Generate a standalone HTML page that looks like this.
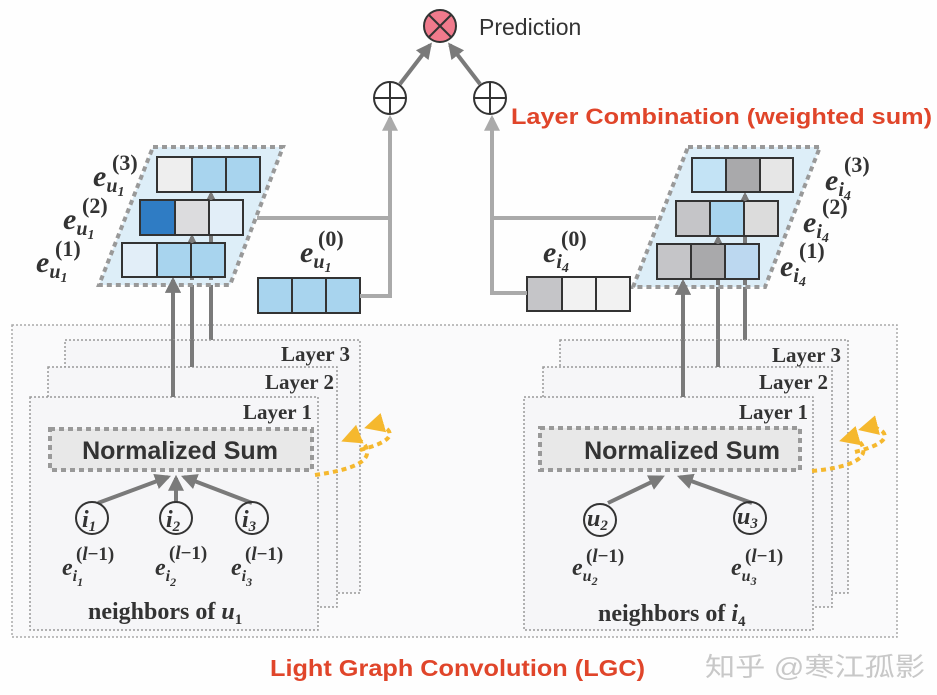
<!DOCTYPE html>
<html><head><meta charset="utf-8"><style>
html,body{margin:0;padding:0;background:#fefefe;}
svg{display:block}
.s{font-family:"Liberation Sans",sans-serif;}
.sf{font-family:"Liberation Serif",serif;font-weight:bold;fill:#333;}
.red{font-family:"Liberation Sans",sans-serif;font-weight:bold;fill:#e0452a;}
</style></head><body>
<svg width="937" height="695" viewBox="0 0 937 695" xmlns="http://www.w3.org/2000/svg">
<defs>
<marker id="ah" viewBox="0 0 10 10" refX="8" refY="5" markerWidth="4" markerHeight="4" orient="auto-start-reverse"><path d="M0,0 L10,5 L0,10 z" fill="#7a7a7a"/></marker>
<marker id="ah2" viewBox="0 0 10 10" refX="8" refY="5" markerWidth="4" markerHeight="4" orient="auto"><path d="M0,0 L10,5 L0,10 z" fill="#aaa"/></marker>
<marker id="ya" viewBox="0 0 10 10" refX="8" refY="5" markerWidth="5" markerHeight="5" orient="auto"><path d="M0,0 L10,5 L0,10 z" fill="#f5b82e"/></marker>
</defs>
<rect width="937" height="695" fill="#fefefe"/>

<!-- Outer LGC box -->
<rect x="12" y="325" width="885" height="312" fill="#fafafb" stroke="#aaa" stroke-width="1.5" stroke-dasharray="2,2"/>

<!-- arrows up from layers (drawn under boxes) -->
<line x1="173" y1="397" x2="173" y2="280" stroke="#7a7a7a" stroke-width="4" marker-end="url(#ah)"/>
<line x1="192" y1="367" x2="192" y2="237" stroke="#7a7a7a" stroke-width="4" marker-end="url(#ah)"/>
<line x1="211" y1="340" x2="211" y2="194" stroke="#7a7a7a" stroke-width="4" marker-end="url(#ah)"/>
<line x1="683" y1="397" x2="683" y2="282" stroke="#7a7a7a" stroke-width="4" marker-end="url(#ah)"/>
<line x1="718" y1="367" x2="718" y2="238" stroke="#7a7a7a" stroke-width="4" marker-end="url(#ah)"/>
<line x1="745" y1="340" x2="745" y2="195" stroke="#7a7a7a" stroke-width="4" marker-end="url(#ah)"/>

<!-- Left layer stack -->
<rect x="65" y="340" width="295" height="253" fill="#f6f6f8" stroke="#999" stroke-width="1.5" stroke-dasharray="2,2"/>
<rect x="48" y="367" width="289" height="240" fill="#f6f6f8" stroke="#999" stroke-width="1.5" stroke-dasharray="2,2"/>
<rect x="30" y="397" width="288" height="233" fill="#f6f6f8" stroke="#999" stroke-width="1.5" stroke-dasharray="2,2"/>
<line x1="173" y1="397" x2="173" y2="340" stroke="#7a7a7a" stroke-width="4"/>
<line x1="192" y1="367" x2="192" y2="340" stroke="#7a7a7a" stroke-width="4"/>
<text x="350" y="361" class="sf" font-size="21" text-anchor="end">Layer 3</text>
<text x="334" y="389" class="sf" font-size="21" text-anchor="end">Layer 2</text>
<text x="312" y="419" class="sf" font-size="21" text-anchor="end">Layer 1</text>
<rect x="50" y="429" width="262" height="41" fill="#e8e8e8" stroke="#999" stroke-width="4" stroke-dasharray="5,4"/>
<text x="180" y="459" class="s" font-size="25" font-weight="bold" fill="#333" text-anchor="middle">Normalized Sum</text>
<line x1="98" y1="503" x2="168" y2="477" stroke="#7a7a7a" stroke-width="4" marker-end="url(#ah)"/>
<line x1="176" y1="502" x2="176" y2="478" stroke="#7a7a7a" stroke-width="4" marker-end="url(#ah)"/>
<line x1="252" y1="503" x2="184" y2="477" stroke="#7a7a7a" stroke-width="4" marker-end="url(#ah)"/>
<g fill="none" stroke="#333" stroke-width="2"><circle cx="92" cy="518" r="16"/><circle cx="176" cy="518" r="16"/><circle cx="252" cy="518" r="16"/></g>
<g class="sf" font-style="italic" font-size="24">
<text x="82" y="527">i<tspan font-size="15" dy="4">1</tspan></text>
<text x="166" y="527">i<tspan font-size="15" dy="4">2</tspan></text>
<text x="242" y="527">i<tspan font-size="15" dy="4">3</tspan></text>
<text x="62" y="575">e<tspan font-size="16" dy="6">i</tspan><tspan font-size="12" dy="5">1</tspan></text>
<text x="155" y="575">e<tspan font-size="16" dy="6">i</tspan><tspan font-size="12" dy="5">2</tspan></text>
<text x="231" y="575">e<tspan font-size="16" dy="6">i</tspan><tspan font-size="12" dy="5">3</tspan></text>
</g>
<g class="sf" font-size="19"><text x="76" y="560">(<tspan font-style="italic">l</tspan>−1)</text><text x="169" y="559">(<tspan font-style="italic">l</tspan>−1)</text><text x="245" y="560">(<tspan font-style="italic">l</tspan>−1)</text></g>
<text x="88" y="619" class="sf" font-size="24">neighbors of <tspan font-style="italic">u</tspan><tspan font-size="15" dy="5">1</tspan></text>
<path d="M315,475 C350,470 375,462 365,445 C360,438 350,438 345,440" fill="none" stroke="#f5b82e" stroke-width="4" stroke-dasharray="5,4" marker-end="url(#ya)"/>
<path d="M360,450 C380,445 395,438 388,430 C383,425 375,425 368,427" fill="none" stroke="#f5b82e" stroke-width="4" stroke-dasharray="5,4" marker-end="url(#ya)"/>

<!-- Right layer stack -->
<rect x="560" y="340" width="288" height="253" fill="#f6f6f8" stroke="#999" stroke-width="1.5" stroke-dasharray="2,2"/>
<rect x="543" y="367" width="289" height="240" fill="#f6f6f8" stroke="#999" stroke-width="1.5" stroke-dasharray="2,2"/>
<rect x="524" y="397" width="289" height="233" fill="#f6f6f8" stroke="#999" stroke-width="1.5" stroke-dasharray="2,2"/>
<line x1="683" y1="397" x2="683" y2="340" stroke="#7a7a7a" stroke-width="4"/>
<line x1="718" y1="367" x2="718" y2="340" stroke="#7a7a7a" stroke-width="4"/>
<text x="841" y="362" class="sf" font-size="21" text-anchor="end">Layer 3</text>
<text x="828" y="389" class="sf" font-size="21" text-anchor="end">Layer 2</text>
<text x="808" y="419" class="sf" font-size="21" text-anchor="end">Layer 1</text>
<rect x="540" y="428" width="260" height="42" fill="#e8e8e8" stroke="#999" stroke-width="4" stroke-dasharray="5,4"/>
<text x="682" y="459" class="s" font-size="25" font-weight="bold" fill="#333" text-anchor="middle">Normalized Sum</text>
<line x1="608" y1="503" x2="662" y2="477" stroke="#7a7a7a" stroke-width="4" marker-end="url(#ah)"/>
<line x1="752" y1="503" x2="680" y2="477" stroke="#7a7a7a" stroke-width="4" marker-end="url(#ah)"/>
<g fill="none" stroke="#333" stroke-width="2"><circle cx="600" cy="520" r="16"/><circle cx="750" cy="518" r="16"/></g>
<g class="sf" font-style="italic" font-size="24">
<text x="587" y="526">u<tspan font-size="15" dy="4">2</tspan></text>
<text x="737" y="524">u<tspan font-size="15" dy="4">3</tspan></text>
<text x="572" y="575">e<tspan font-size="16" dy="6">u</tspan><tspan font-size="12" dy="4">2</tspan></text>
<text x="731" y="575">e<tspan font-size="16" dy="6">u</tspan><tspan font-size="12" dy="4">3</tspan></text>
</g>
<g class="sf" font-size="19"><text x="586" y="562">(<tspan font-style="italic">l</tspan>−1)</text><text x="745" y="562">(<tspan font-style="italic">l</tspan>−1)</text></g>
<text x="598" y="621" class="sf" font-size="24">neighbors of <tspan font-style="italic">i</tspan><tspan font-size="15" dy="5">4</tspan></text>
<path d="M812,471 C845,468 870,460 862,445 C858,438 850,438 843,440" fill="none" stroke="#f5b82e" stroke-width="4" stroke-dasharray="5,4" marker-end="url(#ya)"/>
<path d="M855,452 C875,447 890,440 883,432 C878,427 870,427 862,429" fill="none" stroke="#f5b82e" stroke-width="4" stroke-dasharray="5,4" marker-end="url(#ya)"/>

<!-- Left embeddings -->
<polygon points="153,147 283,147 230,285 99,285" fill="#ddeef8" stroke="#999" stroke-width="4" stroke-dasharray="5,4"/>
<line x1="173" y1="285" x2="173" y2="280" stroke="#7a7a7a" stroke-width="4" marker-end="url(#ah)"/>
<line x1="192" y1="280" x2="192" y2="237" stroke="#7a7a7a" stroke-width="4" marker-end="url(#ah)"/>
<line x1="211" y1="280" x2="211" y2="194" stroke="#7a7a7a" stroke-width="4" marker-end="url(#ah)"/>
<g stroke="#333" stroke-width="2">
<rect x="157" y="157" width="35" height="35" fill="#eeeeee"/><rect x="192" y="157" width="34" height="35" fill="#a8d4ee"/><rect x="226" y="157" width="34" height="35" fill="#a8d4ee"/>
<rect x="140" y="200" width="35" height="35" fill="#2f7cc4"/><rect x="175" y="200" width="34" height="35" fill="#dcdcde"/><rect x="209" y="200" width="34" height="35" fill="#e2eef8"/>
<rect x="122" y="243" width="35" height="34" fill="#e2eef8"/><rect x="157" y="243" width="34" height="34" fill="#a8d4ee"/><rect x="191" y="243" width="34" height="34" fill="#a8d4ee"/>
<rect x="258" y="278" width="34" height="35" fill="#a8d4ee"/><rect x="292" y="278" width="34" height="35" fill="#a8d4ee"/><rect x="326" y="278" width="34" height="35" fill="#a8d4ee"/>
</g>
<g stroke="#7a7a7a" stroke-width="3"><line x1="192" y1="243" x2="192" y2="237"/><line x1="211" y1="200" x2="211" y2="194"/></g>
<g class="sf" font-style="italic" font-size="30">
<text x="93" y="186">e<tspan font-size="20" dy="6">u</tspan><tspan font-size="14" dy="4">1</tspan></text>
<text x="63" y="229">e<tspan font-size="20" dy="6">u</tspan><tspan font-size="14" dy="4">1</tspan></text>
<text x="36" y="272">e<tspan font-size="20" dy="6">u</tspan><tspan font-size="14" dy="4">1</tspan></text>
<text x="300" y="262">e<tspan font-size="20" dy="6">u</tspan><tspan font-size="14" dy="4">1</tspan></text>
</g>
<g class="sf" font-size="22"><text x="112" y="170">(3)</text><text x="82" y="213">(2)</text><text x="55" y="256">(1)</text><text x="318" y="246">(0)</text></g>

<!-- Right embeddings -->
<polygon points="688,147 820,147 765,287 633,287" fill="#ddeef8" stroke="#999" stroke-width="4" stroke-dasharray="5,4"/>
<line x1="683" y1="287" x2="683" y2="282" stroke="#7a7a7a" stroke-width="4" marker-end="url(#ah)"/>
<line x1="718" y1="285" x2="718" y2="238" stroke="#7a7a7a" stroke-width="4" marker-end="url(#ah)"/>
<line x1="745" y1="285" x2="745" y2="195" stroke="#7a7a7a" stroke-width="4" marker-end="url(#ah)"/>
<g stroke="#333" stroke-width="2">
<rect x="692" y="158" width="34" height="34" fill="#c3e3f5"/><rect x="726" y="158" width="34" height="34" fill="#a9a9ab"/><rect x="760" y="158" width="33" height="34" fill="#e6e6e6"/>
<rect x="676" y="201" width="34" height="35" fill="#c5c5c8"/><rect x="710" y="201" width="34" height="35" fill="#a8d4ee"/><rect x="744" y="201" width="34" height="35" fill="#dcdcdc"/>
<rect x="657" y="244" width="34" height="35" fill="#c5c5c8"/><rect x="691" y="244" width="34" height="35" fill="#a9a9ab"/><rect x="725" y="244" width="34" height="35" fill="#bcd8f0"/>
<rect x="527" y="277" width="35" height="34" fill="#c5c5c8"/><rect x="562" y="277" width="34" height="34" fill="#f2f2f2"/><rect x="596" y="277" width="34" height="34" fill="#f2f2f2"/>
</g>
<g stroke="#7a7a7a" stroke-width="3"><line x1="718" y1="244" x2="718" y2="238"/><line x1="745" y1="201" x2="745" y2="195"/></g>
<g class="sf" font-style="italic" font-size="30">
<text x="825" y="190">e<tspan font-size="20" dy="6">i</tspan><tspan font-size="14" dy="4">4</tspan></text>
<text x="803" y="232">e<tspan font-size="20" dy="6">i</tspan><tspan font-size="14" dy="4">4</tspan></text>
<text x="780" y="276">e<tspan font-size="20" dy="6">i</tspan><tspan font-size="14" dy="4">4</tspan></text>
<text x="543" y="262">e<tspan font-size="20" dy="6">i</tspan><tspan font-size="14" dy="4">4</tspan></text>
</g>
<g class="sf" font-size="22"><text x="844" y="172">(3)</text><text x="822" y="214">(2)</text><text x="799" y="258">(1)</text><text x="561" y="246">(0)</text></g>

<!-- Combination lines -->
<g stroke="#aaa" stroke-width="4" fill="none">
<polyline points="360,296 390,296 390,130"/>
<line x1="257" y1="218" x2="390" y2="218"/>
<polyline points="527,293 492,293 492,130"/>
<line x1="492" y1="218" x2="656" y2="218"/>
</g>
<line x1="390" y1="140" x2="390" y2="118" stroke="#aaa" stroke-width="4" marker-end="url(#ah2)"/>
<line x1="492" y1="140" x2="492" y2="118" stroke="#aaa" stroke-width="4" marker-end="url(#ah2)"/>
<g stroke="#333" stroke-width="2" fill="#fff">
<circle cx="390" cy="98" r="16"/><line x1="374" y1="98" x2="406" y2="98"/><line x1="390" y1="82" x2="390" y2="114"/>
<circle cx="490" cy="98" r="16"/><line x1="474" y1="98" x2="506" y2="98"/><line x1="490" y1="82" x2="490" y2="114"/>
</g>
<line x1="400" y1="84" x2="430" y2="45" stroke="#7a7a7a" stroke-width="4" marker-end="url(#ah)"/>
<line x1="480" y1="84" x2="450" y2="45" stroke="#7a7a7a" stroke-width="4" marker-end="url(#ah)"/>
<g stroke="#333" stroke-width="2">
<circle cx="440" cy="26" r="16" fill="#f07a8c"/>
<line x1="429" y1="15" x2="451" y2="37"/><line x1="451" y1="15" x2="429" y2="37"/>
</g>
<text x="479" y="35" class="s" font-size="23" fill="#333">Prediction</text>
<text x="511" y="124" class="red" font-size="22" textLength="421" lengthAdjust="spacingAndGlyphs">Layer Combination (weighted sum)</text>
<text x="270" y="676" class="red" font-size="23" textLength="375" lengthAdjust="spacingAndGlyphs">Light Graph Convolution (LGC)</text>
<text x="705" y="676" font-family="'Liberation Sans','Noto Sans CJK SC',sans-serif" font-size="26" fill="#c8c8c8" textLength="220" lengthAdjust="spacingAndGlyphs">知乎 @寒江孤影</text>
</svg>
</body></html>
